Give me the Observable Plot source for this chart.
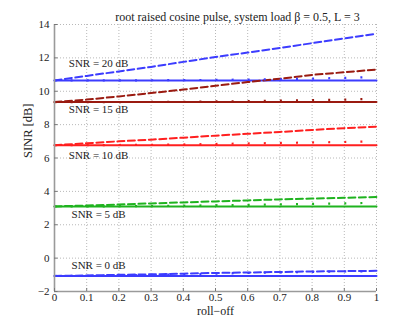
<!DOCTYPE html>
<html>
<head>
<meta charset="utf-8">
<script src="https://cdn.jsdelivr.net/npm/d3@7"></script>
<script src="https://cdn.jsdelivr.net/npm/@observablehq/plot@0.6"></script>
<style>
  html, body { margin: 0; padding: 0; background: #fff; }
  svg { display: block; }
  svg, svg text { font-family: "Liberation Serif", "Times New Roman", "DejaVu Serif", serif !important; }
</style>
</head>
<body>
<div id="chart"></div>
<script>
// ---- data ----
const rollOff = [0, 0.1, 0.2, 0.3, 0.4, 0.5, 0.6, 0.7, 0.8, 0.9, 1];
const snrLabels = ["SNR = 20 dB", "SNR = 15 dB", "SNR = 10 dB", "SNR = 5 dB", "SNR = 0 dB"];
const seriesColors = ["#3c3cff", "#9a1a10", "#ff1f1f", "#1fb31f", "#3c3cff"];

// solid (constant) curves
const solidSINR = [10.65, 9.35, 6.77, 3.1, -1.07];

// dashed curves
const dashed20 = [10.65, 10.92, 11.19, 11.46, 11.76, 12.05, 12.32, 12.6, 12.88, 13.17, 13.45];
const dashed15 = [9.35, 9.5, 9.69, 9.89, 10.1, 10.33, 10.55, 10.75, 10.98, 11.14, 11.3];
const dashed10 = [6.77, 6.88, 7.0, 7.1, 7.22, 7.34, 7.45, 7.56, 7.68, 7.79, 7.88];
const dashed5  = [3.1, 3.15, 3.21, 3.28, 3.34, 3.4, 3.46, 3.52, 3.57, 3.62, 3.66];
const dashed0  = [-1.07, -1.04, -1.0, -0.97, -0.93, -0.89, -0.86, -0.83, -0.8, -0.78, -0.76];

// dotted curves
const dotted20 = [10.65, 10.65, 10.65, 10.66, 10.67, 10.68, 10.7, 10.72, 10.76, 10.8, 10.86];
const dotted15 = [9.35, 9.35, 9.35, 9.36, 9.37, 9.39, 9.41, 9.44, 9.47, 9.5, 9.55];
const dotted10 = [6.77, 6.77, 6.78, 6.79, 6.81, 6.84, 6.87, 6.9, 6.93, 6.96, 7.0];
const dotted5  = [3.1, 3.1, 3.11, 3.12, 3.14, 3.17, 3.19, 3.22, 3.25, 3.28, 3.32];
const dotted0  = [-1.07, -1.06, -1.04, -1.01, -0.97, -0.93, -0.89, -0.85, -0.82, -0.8, -0.78];

// annotation anchors (data coordinates)
const labelRollOff = 0.137;
const labelSINR = [11.66, 8.9, 6.16, 2.62, -0.47];

const xTicks = [0, 0.1, 0.2, 0.3, 0.4, 0.5, 0.6, 0.7, 0.8, 0.9, 1];
const yTicks = [-2, 0, 2, 4, 6, 8, 10, 12, 14];

const titleText = "root raised cosine pulse, system load \u03B2 = 0.5, L = 3";
const xLabel = "roll\u2212off";
const yLabel = "SINR [dB]";

// ---- build tables ----
const dashedAll = [dashed20, dashed15, dashed10, dashed5, dashed0];
const dottedAll = [dotted20, dotted15, dotted10, dotted5, dotted0];
const solidRows = [], dashedRows = [], dottedRows = [];
snrLabels.forEach((s, i) => {
  rollOff.forEach((x, j) => {
    solidRows.push({s, x, y: solidSINR[i], c: seriesColors[i]});
    dashedRows.push({s, x, y: dashedAll[i][j], c: seriesColors[i]});
    dottedRows.push({s, x, y: dottedAll[i][j], c: seriesColors[i]});
  });
});
const labelRows = snrLabels.map((t, i) => ({t, x: labelRollOff, y: labelSINR[i]}));

const font = "'Liberation Serif', 'Times New Roman', serif";
const grid = {stroke: "#b8b8b8", strokeWidth: 1, strokeDasharray: "1,2"};

const plot = Plot.plot({
  width: 415,
  height: 328,
  marginLeft: 54,
  marginRight: 39,
  marginTop: 24,
  marginBottom: 37,
  style: {fontFamily: font, fontSize: "11px", background: "#fff", color: "#222"},
  x: {domain: [0, 1]},
  y: {domain: [-2, 14]},
  marks: [
    // grid
    Plot.ruleX(xTicks.filter(d => d > 0), {...grid}),
    Plot.ruleY(yTicks.filter(d => d > -2), {...grid}),
    // axes tick labels
    Plot.axisX({ticks: xTicks, tickSize: 0, tickPadding: 2, label: null, fontSize: 11, fontFamily: font, tickFormat: d => String(d)}),
    Plot.axisY({ticks: yTicks, tickSize: 0, tickPadding: 5, label: null, fontSize: 11, fontFamily: font}),
    // data
    Plot.line(solidRows, {x: "x", y: "y", z: "s", stroke: "c", strokeWidth: 2}),
    Plot.line(dashedRows, {x: "x", y: "y", z: "s", stroke: "c", strokeWidth: 2, strokeDasharray: "7,3.5"}),
    Plot.line(dottedRows, {x: "x", y: "y", z: "s", stroke: "c", strokeWidth: 2.2, strokeDasharray: "2,14.1", strokeLinecap: "butt"}),
    // axis lines and inward ticks
    Plot.ruleX([0], {stroke: "#9a9a9a", strokeWidth: 1.6}),
    Plot.ruleY([-2], {stroke: "#9a9a9a", strokeWidth: 1.6}),
    Plot.ruleY(yTicks, {x1: 0, x2: 0.011, stroke: "#777", strokeWidth: 1}),
    Plot.ruleX(xTicks, {y1: -2, y2: -1.82, stroke: "#777", strokeWidth: 1}),
    // annotations
    Plot.text(labelRows, {x: "x", y: "y", text: "t", fontSize: 11, fontFamily: font, fill: "#222", textAnchor: "middle"}),
    Plot.text([titleText], {frameAnchor: "top", dx: 22, dy: -12, fontSize: 12, fontFamily: font, fill: "#222"}),
    Plot.text([xLabel], {frameAnchor: "bottom", dy: 23, fontSize: 12, fontFamily: font, fill: "#222"}),
    Plot.text([yLabel], {frameAnchor: "left", dx: -27, rotate: -90, fontSize: 12.5, fontFamily: font, fill: "#222"})
  ]
});
document.getElementById("chart").appendChild(plot);
</script>
</body>
</html>
